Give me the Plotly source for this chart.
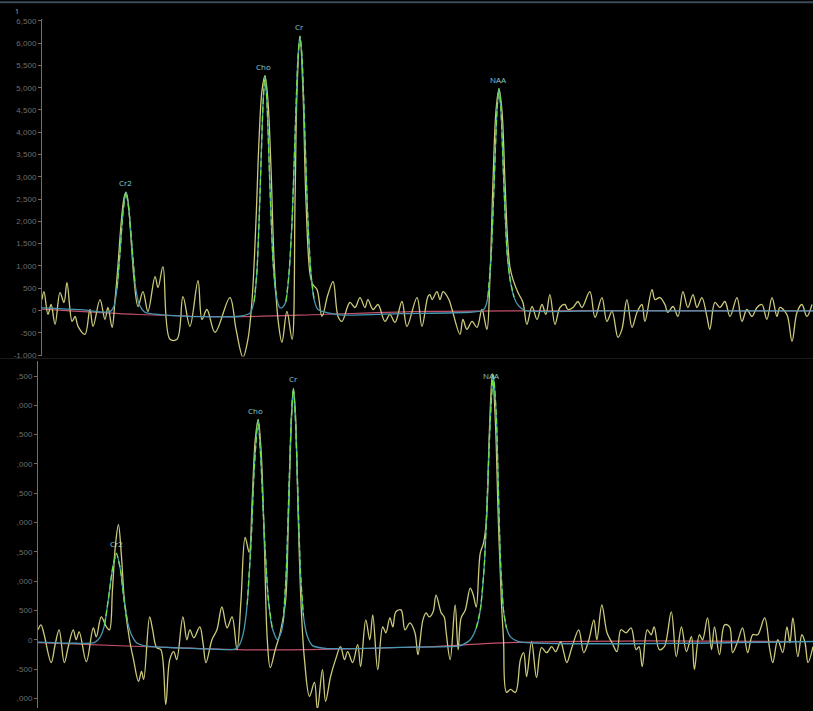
import plotly.graph_objects as go

# ---------------- Top spectrum (ppm, signal) ----------------
top_ppm = [4.323, 4.313, 4.293, 4.277, 4.257, 4.232, 4.212, 4.197, 4.171, 4.156, 4.141, 4.106, 4.081, 4.065,
           4.030, 4.005, 3.990, 3.969, 3.954, 3.939, 3.924, 3.909, 3.899, 3.889, 3.873, 3.858, 3.838, 3.813,
           3.788, 3.752, 3.737, 3.712, 3.677, 3.641, 3.611, 3.576, 3.535, 3.515, 3.490, 3.449, 3.374, 3.343,
           3.308, 3.283, 3.262, 3.242, 3.227, 3.212, 3.197, 3.182, 3.166, 3.151, 3.131, 3.111, 3.086, 3.060,
           3.045, 3.035, 3.020, 3.005, 2.990, 2.969, 2.955, 2.934, 2.909, 2.879, 2.853, 2.828, 2.808, 2.768,
           2.742, 2.717, 2.692, 2.677, 2.651, 2.626, 2.591, 2.566, 2.540, 2.505, 2.480, 2.429, 2.404, 2.374,
           2.364, 2.353, 2.328, 2.313, 2.297, 2.268, 2.252, 2.212, 2.197, 2.177, 2.151, 2.126, 2.101, 2.076,
           2.061, 2.045, 2.030, 2.015, 2.000, 1.985, 1.970, 1.959, 1.944, 1.919, 1.894, 1.874, 1.848, 1.823,
           1.798, 1.778, 1.758, 1.732, 1.707, 1.682, 1.667, 1.641, 1.616, 1.596, 1.556, 1.530, 1.495, 1.470,
           1.444, 1.414, 1.394, 1.369, 1.343, 1.318, 1.293, 1.278, 1.242, 1.227, 1.202, 1.177, 1.162, 1.136,
           1.111, 1.086, 1.061, 1.035, 1.015, 0.990, 0.965, 0.950, 0.924, 0.899, 0.874, 0.848, 0.813, 0.788,
           0.763, 0.737, 0.712, 0.687, 0.662, 0.636, 0.611, 0.596, 0.561, 0.535, 0.510, 0.485, 0.460, 0.434]
top_signal = [245, 424, -89, 134, -312, 402, 179, 625, -245, -134, -357, -536, 22, -357,
              245, -201, 67, -379, 245, 1027, 1920, 2522, 2656, 2478, 1585, 692, 89, 424,
              -22, 759, 513, 982, -647, -647, 312, -357, 670, -201, 22, -491, 290, -424,
              -1049, -647, 245, 2031, 3817, 4933, 5268, 4710, 3147, 1138, -201, -714, -22, -647,
              2478, 4933, 6160, 4933, 2478, 804, 580, 469, -134, 357, 647, -134, -245, 179,
              67, 290, 67, 245, 22, 134, -245, -89, -268, 201, -357, 290, -357, 312,
              357, 245, 424, 245, 424, 245, 22, -536, -201, -424, -245, -379, 22, -424,
              692, 2924, 4486, 4977, 4486, 2924, 1473, 960, 692, 402, 179, -312, 89, -201,
              134, -89, 357, -312, 67, 134, 22, 67, 201, 67, 424, -156, 290, -245,
              -22, -603, -424, 245, -379, -45, 134, -245, 469, 245, 290, 134, -45, 89,
              -134, 424, 67, 357, 67, 290, -134, -424, 179, 67, 201, -134, 290, -245,
              22, -134, 67, 134, -201, 290, -134, 67, -89, -692, -45, 134, -134, 134]

top_fit_ppm = [4.323, 4.131, 3.980, 3.959, 3.944, 3.929, 3.914, 3.899, 3.884, 3.868, 3.853, 3.833, 3.803,
               3.677, 3.525, 3.323, 3.273, 3.252, 3.237, 3.222, 3.207, 3.197, 3.187, 3.172, 3.156, 3.141,
               3.121, 3.106, 3.091, 3.076, 3.060, 3.045, 3.030, 3.020, 3.010, 2.995, 2.980, 2.964, 2.949,
               2.929, 2.818, 2.515, 2.162, 2.101, 2.086, 2.071, 2.055, 2.040, 2.025, 2.015, 2.005, 1.990,
               1.974, 1.959, 1.939, 1.919, 1.884, 1.505, 0.429]
top_fit = [60, 20, -30, 100, 500, 1300, 2200, 2650, 2250, 1400, 600, 150, -40,
           -110, -140, -130, -60, 200, 900, 2600, 4600, 5260, 4700, 2800, 1100, 350,
           60, 80, 200, 800, 2000, 3900, 5700, 6150, 5700, 3900, 2000, 800, 250,
           20, -100, -70, -40, 0, 60, 300, 1200, 2800, 4500, 4970, 4500, 2800,
           1300, 700, 300, 120, 0, -10, -10]

top_base_ppm = [4.323, 3.838, 3.323, 2.909, 2.374, 0.429]
top_base = [30, -90, -140, -90, -20, -10]

# ---------------- Bottom spectrum ----------------
bot_ppm = [4.303, 4.288, 4.272, 4.237, 4.217, 4.197, 4.171, 4.151, 4.126, 4.111, 4.096, 4.060, 4.025, 4.010,
           3.985, 3.959, 3.944, 3.929, 3.914, 3.899, 3.884, 3.868, 3.843, 3.823, 3.798, 3.783, 3.772, 3.742,
           3.727, 3.707, 3.686, 3.661, 3.641, 3.621, 3.606, 3.575, 3.555, 3.540, 3.520, 3.490, 3.474, 3.459,
           3.429, 3.404, 3.379, 3.353, 3.328, 3.303, 3.283, 3.262, 3.242, 3.227, 3.212, 3.197, 3.182, 3.166,
           3.151, 3.136, 3.111, 3.086, 3.060, 3.045, 3.030, 3.020, 3.010, 2.995, 2.980, 2.964, 2.939, 2.914,
           2.899, 2.874, 2.858, 2.833, 2.808, 2.783, 2.763, 2.747, 2.722, 2.697, 2.682, 2.656, 2.636, 2.621,
           2.596, 2.571, 2.555, 2.535, 2.520, 2.505, 2.479, 2.459, 2.434, 2.409, 2.394, 2.369, 2.353, 2.338,
           2.318, 2.303, 2.277, 2.262, 2.252, 2.232, 2.207, 2.192, 2.177, 2.156, 2.131, 2.116, 2.101, 2.081,
           2.065, 2.050, 2.035, 2.020, 2.005, 1.990, 1.975, 1.964, 1.949, 1.929, 1.904, 1.879, 1.863, 1.848,
           1.823, 1.798, 1.773, 1.747, 1.722, 1.702, 1.677, 1.661, 1.646, 1.621, 1.586, 1.561, 1.535, 1.510,
           1.495, 1.470, 1.444, 1.419, 1.394, 1.374, 1.348, 1.323, 1.298, 1.283, 1.267, 1.242, 1.222, 1.207,
           1.181, 1.156, 1.121, 1.096, 1.070, 1.045, 1.020, 1.005, 0.980, 0.964, 0.939, 0.919, 0.904, 0.879,
           0.853, 0.828, 0.813, 0.788, 0.763, 0.737, 0.712, 0.687, 0.652, 0.626, 0.611, 0.586, 0.561, 0.540,
           0.525, 0.510, 0.485, 0.465, 0.449, 0.434, 0.409]
bot_signal = [170, 254, 85, -390, -85, 170, -390, -119, 170, 0, 136, -373, 203, 51,
              390, 220, 170, 848, 1610, 1966, 1441, 627, 0, -339, -712, -542, -678, 390,
              170, -136, -170, -1102, -339, -203, -339, 390, 0, 170, 34, 220, -51, -390,
              0, 170, 559, 203, 390, -170, 678, 1746, 1492, 2373, 3390, 3763, 3221, 1695,
              0, -475, -170, 119, 627, 2034, 3729, 4288, 3899, 2034, 509, -339, -966, -729,
              -1187, -509, -1051, -627, -339, -119, -339, -203, -390, -85, -458, 339, 0, 424,
              -509, 220, 119, 373, 220, 475, 509, 170, 288, 119, -254, 339, 458, 390,
              475, 763, 458, 390, 119, -339, 593, -170, 373, 509, 881, 763, 559, 1475,
              1644, 2034, 3560, 4543, 3729, 2034, 678, 0, -898, -848, -898, -339, -220, -627,
              -34, -644, -136, -220, -119, -203, -34, -220, -390, -136, 170, -220, 0, 339,
              0, 593, 119, -51, -203, 170, 119, 203, -170, -119, -458, 170, 85, 220,
              -170, -119, 475, -288, 220, -203, 51, -509, 85, 0, 373, -170, 220, -254,
              254, 220, -220, -34, 203, -220, 85, 85, 373, -170, -390, 0, -220, 220,
              -51, 373, -288, 85, -51, -390, -119]

bot_fit_ppm = [4.303, 4.111, 4.020, 3.990, 3.969, 3.949, 3.929, 3.909, 3.889, 3.873, 3.853, 3.833, 3.808,
               3.757, 3.505, 3.313, 3.293, 3.272, 3.252, 3.232, 3.217, 3.197, 3.182, 3.166, 3.146, 3.126,
               3.101, 3.086, 3.071, 3.055, 3.040, 3.030, 3.020, 3.010, 3.000, 2.985, 2.969, 2.949, 2.924,
               2.848, 2.495, 2.192, 2.166, 2.131, 2.101, 2.081, 2.060, 2.045, 2.030, 2.015, 2.000, 1.990,
               1.980, 1.964, 1.949, 1.929, 1.889, 0.409]
bot_fit = [-40, -60, -50, 50, 250, 700, 1200, 1475, 1200, 750, 300, 80, -50,
           -110, -150, -160, -100, 100, 600, 1700, 2900, 3750, 3000, 1800, 700, 200,
           0, 80, 300, 1200, 2800, 3800, 4290, 3800, 2800, 1200, 400, 50, -100,
           -150, -130, -110, -80, 0, 200, 500, 1300, 2500, 3800, 4520, 3800, 2600,
           1400, 500, 200, 50, -30, -30]

bot_base_ppm = [4.303, 3.757, 3.303, 2.944, 2.348, 1.944, 1.242, 0.409]
bot_base = [-50, -120, -170, -170, -120, -50, -20, -30]

# Peak labels
top_labels = ["Cr2", "Cho", "Cr", "NAA"]
top_label_ppm = [3.899, 3.202, 3.020, 2.015]
top_label_val = [2650, 5260, 6150, 4970]
bot_labels = ["Cr2", "Cho", "Cr", "NAA"]
bot_label_ppm = [3.909, 3.212, 3.020, 2.025]
bot_label_val = [1475, 3750, 4290, 4350]

top_ticks = list(range(-1000, 6501, 500))
top_ticktext = [f"{v:,}" for v in top_ticks]
bot_ticks = list(range(-1000, 4501, 500))
bot_ticktext = [",000", "-500", "0", "500", ",000", ",500", ",000", ",500",
                ",000", ",500", ",000", ",500"]

YELLOW = "#cdca7c"
BLUE = "#4a97b4"
GREEN = "#6fe246"
RED = "#c2506b"
LABEL = "#86cfd2"
TICK = "#6e6e6e"

fig = go.Figure()


def add_panel(xa, ya, ppm, sig, fppm, fit, bppm, base):
    fig.add_trace(go.Scatter(x=bppm, y=base, mode="lines", xaxis=xa, yaxis=ya,
                             line=dict(color=RED, width=1.2, shape="spline", smoothing=0.8),
                             hoverinfo="skip", showlegend=False))
    fig.add_trace(go.Scatter(x=ppm, y=sig, mode="lines", xaxis=xa, yaxis=ya,
                             line=dict(color=YELLOW, width=1.3, shape="spline", smoothing=1.0),
                             showlegend=False))
    fig.add_trace(go.Scatter(x=fppm, y=fit, mode="lines", xaxis=xa, yaxis=ya,
                             line=dict(color=BLUE, width=1.3, shape="spline", smoothing=0.6),
                             showlegend=False))
    green = [v if v > 150 else None for v in fit]
    fig.add_trace(go.Scatter(x=fppm, y=green, mode="lines", xaxis=xa, yaxis=ya,
                             line=dict(color=GREEN, width=1.3, shape="spline", smoothing=0.6,
                                       dash="6px,3px"),
                             connectgaps=False, showlegend=False))


add_panel("x", "y", top_ppm, top_signal, top_fit_ppm, top_fit, top_base_ppm, top_base)
add_panel("x2", "y2", bot_ppm, bot_signal, bot_fit_ppm, bot_fit, bot_base_ppm, bot_base)

for t, p, v in zip(top_labels, top_label_ppm, top_label_val):
    fig.add_annotation(x=p, y=v, xref="x", yref="y", text=t, showarrow=False,
                       yanchor="bottom", yshift=2, font=dict(size=8, color=LABEL))
for t, p, v in zip(bot_labels, bot_label_ppm, bot_label_val):
    fig.add_annotation(x=p, y=v, xref="x2", yref="y2", text=t, showarrow=False,
                       yanchor="bottom", yshift=2, font=dict(size=8, color=LABEL))

fig.add_annotation(x=13 / 813, y=1 - 3 / 711, xref="paper", yref="paper", text="1",
                   showarrow=False, yanchor="top", font=dict(size=7, color="#bbbbbb"))

fig.add_shape(type="line", xref="paper", yref="paper", x0=0, x1=1, y0=0.9995, y1=0.9995,
              line=dict(color="#3c4a5a", width=2))
fig.add_shape(type="line", xref="paper", yref="paper", x0=0, x1=1, y0=1 - 359 / 711, y1=1 - 359 / 711,
              line=dict(color="#1c1c1c", width=1))

yaxis_common = dict(showgrid=False, zeroline=False, showline=True, linecolor=TICK, linewidth=1,
                    ticks="outside", ticklen=3, tickcolor=TICK, tickmode="array",
                    tickfont=dict(size=8, color=TICK, family="Liberation Sans, Arial, sans-serif"))

fig.update_layout(
    width=813, height=711, autosize=False,
    margin=dict(l=0, r=0, t=0, b=0),
    paper_bgcolor="black", plot_bgcolor="black",
    xaxis=dict(domain=[42 / 813, 1], range=[4.323, 0.429], visible=False, anchor="y"),
    xaxis2=dict(domain=[38 / 813, 1], range=[4.303, 0.409], visible=False, anchor="y2"),
    yaxis=dict(domain=[1 - 357 / 711, 1 - 17 / 711], range=[-1033, 6545], anchor="x",
               tickvals=top_ticks, ticktext=top_ticktext, **yaxis_common),
    yaxis2=dict(domain=[0, 1 - 362 / 711], range=[-1165, 4750], anchor="x2",
                tickvals=bot_ticks, ticktext=bot_ticktext, **yaxis_common),
)

fig.write_html(
    "out.html",
    config={"displayModeBar": False},
    post_script="document.body.style.margin='0';document.body.style.background='black';"
                "document.body.style.overflow='hidden';",
)
